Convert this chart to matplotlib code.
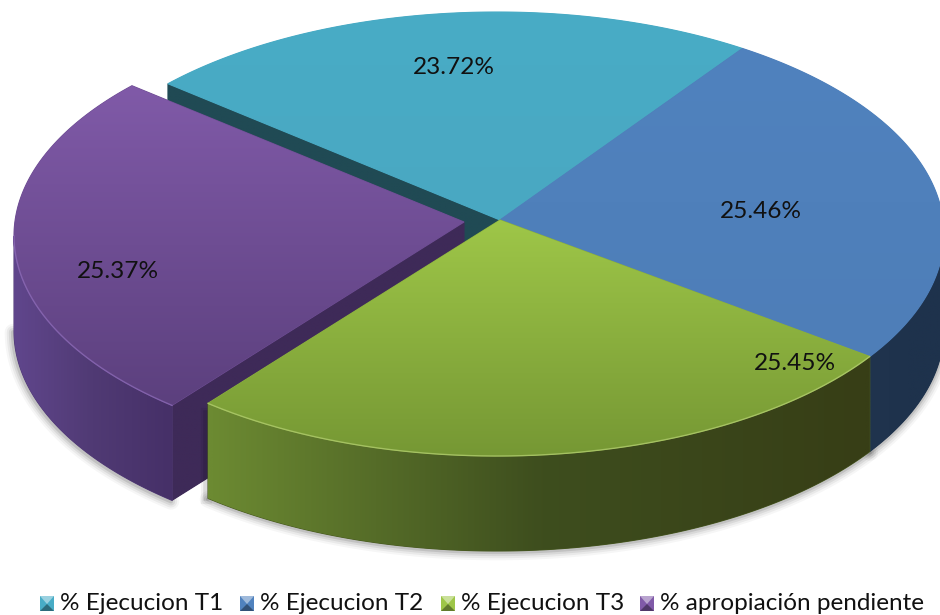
import numpy as np
import matplotlib
matplotlib.use("Agg")
import matplotlib.pyplot as plt
from matplotlib.patches import Polygon, Rectangle

plt.rcParams['font.family'] = ['Lato', 'DejaVu Sans']

categories = ['% Ejecucion T1', '% Ejecucion T2', '% Ejecucion T3', '% apropiación pendiente']
values = [23.72, 25.46, 25.45, 25.37]
labels = ['23.72%', '25.46%', '25.45%', '25.37%']

# style per slice: top gradient (upper, lower), wall gradient stops (left, mid, right), cut face
top_cols = [((72, 172, 198), (74, 168, 194)),
            ((80, 130, 190), (78, 126, 184)),
            ((158, 198, 72), (118, 152, 52)),
            ((128, 90, 168), (92, 64, 126))]
wall_cols = [((30, 75, 85), (30, 75, 85), (30, 75, 85)),
             ((32, 52, 78), (30, 50, 76), (30, 50, 76)),
             ((108, 138, 50), (62, 78, 30), (55, 62, 22)),
             ((96, 70, 140), (80, 58, 116), (70, 48, 104))]
cut_cols = [(32, 74, 84), None, None, (62, 42, 88)]
label_xy = [(454, 67), (761, 210), (795, 363), (118, 270)]
offsets = [(0, 0), (0, 0), (0, 0), (-36, 2)]
legend_x = [40, 240, 441, 640]

CX, CY, RX, RY = 497, 234, 447, 222      # ellipse of the top face
APEX = (500, 220)                        # image of the pie centre (perspective)
DEPTH = 95
c = complex((APEX[0] - CX) / RX, (CY - APEX[1]) / RY) / 2


def rim(theta):
    z = np.exp(1j * theta)
    w = (z + c) / (1 + np.conj(c) * z)
    return np.column_stack([CX + RX * w.real, CY - RY * w.imag])


def start_angle(deg):
    w = np.exp(1j * np.radians(deg))
    return np.angle((w - c) / (1 - np.conj(c) * w))


def gradient_fill(ax, pts, stops, vertical, z):
    pts = np.asarray(pts)
    x0, y0 = pts.min(axis=0)
    x1, y1 = pts.max(axis=0)
    n = 64
    t = np.linspace(0, 1, n)
    s = np.linspace(0, 1, len(stops))
    arr = np.stack([np.interp(t, s, [col[i] / 255 for col in stops]) for i in range(3)], axis=-1)
    mean = arr.mean(axis=0)
    ax.add_patch(Polygon(pts, closed=True, fc=mean, ec=mean, lw=0.8, zorder=z))
    img = arr[:, None, :] if vertical else arr[None, :, :]
    im = ax.imshow(img, extent=(x0, x1, y1, y0), origin='upper', aspect='auto',
                   interpolation='bilinear', zorder=z)
    patch = Polygon(pts, closed=True, transform=ax.transData, fc='none', ec='none')
    ax.add_patch(patch)
    im.set_clip_path(patch)
    return im


fig = plt.figure(figsize=(9.4, 6.15), dpi=100)
ax = fig.add_axes([0, 0, 1, 1])
ax.set_xlim(0, 940)
ax.set_ylim(615, 0)
ax.axis('off')

# slice geometry, clockwise from the T1 / purple boundary
th0 = start_angle(137.4)
fr = np.array(values) / sum(values) * 2 * np.pi
edges = th0 - np.concatenate([[0], np.cumsum(fr)])
geo = []
for i in range(4):
    arc = rim(np.linspace(edges[i], edges[i + 1], 400)) + offsets[i]
    apex = np.array(APEX) + offsets[i]
    geo.append((arc, apex))


def front_arc(i):
    arc, _ = geo[i]
    return arc[arc[:, 1] >= CY + offsets[i][1]]


def top_face(i):
    arc, apex = geo[i]
    return np.vstack([[apex], arc])


def wall(i):
    arc = front_arc(i)
    return np.vstack([arc, (arc + [0, DEPTH])[::-1]])


def cut_face(i, end):
    arc, apex = geo[i]
    p = arc[end]
    return np.array([apex, p, p + [0, DEPTH], apex + [0, DEPTH]])


# soft shadow beneath the solid
for lw, al in [(12, .035), (9, .05), (6, .07), (3, .10)]:
    for i in (1, 2, 3):
        arc = front_arc(i)
        low = arc + [-1 if i == 3 else 0, DEPTH + 1]
        ax.plot(low[:, 0], low[:, 1], color='k', lw=lw, alpha=al, zorder=1, solid_capstyle='round')

# back pieces
gradient_fill(ax, cut_face(0, 0), [cut_cols[0], cut_cols[0]], True, 2)
gradient_fill(ax, top_face(0), top_cols[0], True, 3)
gradient_fill(ax, wall(1), wall_cols[1], False, 2)
gradient_fill(ax, top_face(1), top_cols[1], True, 3)
# exploded purple slice
gradient_fill(ax, cut_face(3, 0), [cut_cols[3], cut_cols[3]], True, 4)
gradient_fill(ax, wall(3), wall_cols[3], False, 5)
gradient_fill(ax, top_face(3), top_cols[3], True, 6)
# green slice in front
edge = geo[2][0][-1]
for lw, al in [(8, .05), (4, .10)]:
    ax.plot([edge[0] - 2, edge[0] - 2], [edge[1] + 10, edge[1] + DEPTH], color='k', lw=lw, alpha=al, zorder=6.5)
gradient_fill(ax, wall(2), wall_cols[2], False, 7)
gradient_fill(ax, top_face(2), top_cols[2], True, 8)

# bevel highlights along the front rims
for i, col in [(2, '#c4dc84'), (3, '#9a78c8')]:
    arc = front_arc(i)
    ax.plot(arc[:, 0], arc[:, 1], color=col, lw=1.0, alpha=.55, zorder=9)

for lab, (x, y) in zip(labels, label_xy):
    ax.text(x, y + 1, lab, ha='center', va='center', fontsize=17.6, color='#111111', zorder=12)

# legend
for name, x, tc in zip(categories, legend_x, top_cols):
    col = np.array(tc[0]) / 255
    dark = col * .62
    light = col + (1 - col) * .45
    ax.add_patch(Rectangle((x, 596), 14, 15, fc=col, ec='none', zorder=10))
    ax.add_patch(Polygon([(x, 596), (x + 14, 596), (x + 7, 604)], fc=light, ec='none', zorder=11))
    ax.add_patch(Polygon([(x, 611), (x + 14, 611), (x + 7, 604)], fc=dark, ec='none', zorder=11))
    ax.text(x + 20, 609.5, name, ha='left', va='baseline', fontsize=17.5, color='#111111', zorder=12)

fig.savefig('out.png', dpi=100, facecolor='white')
